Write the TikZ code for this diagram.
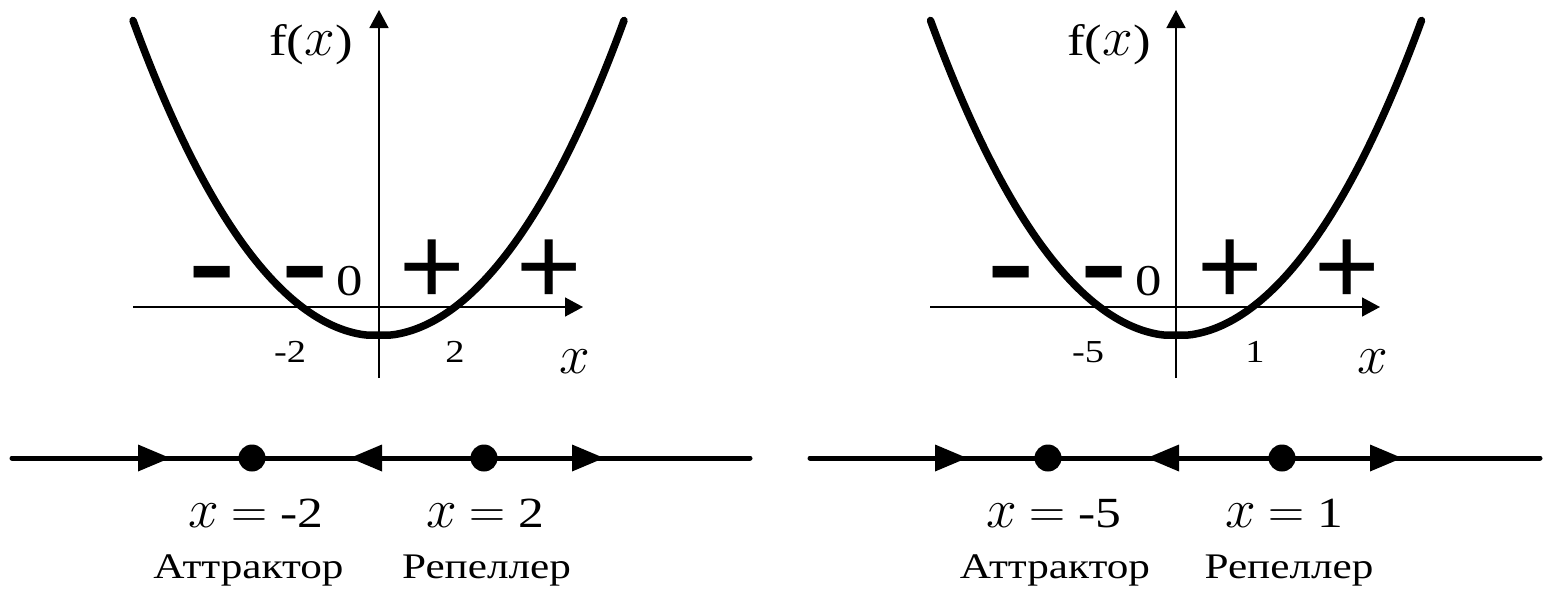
\RequirePackage{fix-cm}
\documentclass[tikz,border=0pt]{standalone}
\usepackage{fontspec}
\setmainfont[FakeStretch=1.2]{Liberation Serif}
\newfontfamily\signfont{Liberation Sans}
\usetikzlibrary{arrows.meta}
\tikzset{
  axisline/.style={line width=1.6pt, -{Triangle[length=18pt,width=19pt]}},
  curveline/.style={line width=7.5pt, line cap=round, line join=round},
  flowline/.style={line width=5pt, line cap=round},
  fixdot/.style={circle, fill=black, inner sep=0pt, minimum size=27pt},
  plussign/.style={inner sep=0pt, font=\signfont\fontsize{112}{112}\selectfont},
  minussign/.style={inner sep=0pt, anchor=base, font=\signfont\fontsize{148}{148}\selectfont},
  ticklbl/.style={inner sep=0pt, anchor=base, font=\fontsize{32}{32}\selectfont},
  biglbl/.style={inner sep=0pt, anchor=base, font=\fontsize{44}{44}\selectfont},
  eqlbl/.style={inner sep=0pt, anchor=base, font=\fontsize{43}{43}\selectfont},
  typelbl/.style={inner sep=0pt, anchor=base, font=\fontsize{36}{36}\selectfont},
}
\newcommand\bigx{{\fontsize{55}{55}\selectfont\(x\)}}
\newcommand\bigeq{{\fontsize{50}{50}\selectfont\(=\)}}
\begin{document}
\begin{tikzpicture}[x=1pt,y=-1pt]
\useasboundingbox (0,0) rectangle (1547,589);
% ---------- left panel ----------
\coordinate (yb1) at (379,378); \coordinate (yt1) at (379,10);
\coordinate (xl1) at (133,307); \coordinate (xr1) at (583,307);
\draw[axisline] (yb1) -- (yt1);
\draw[axisline] (xl1) -- (xr1);
\draw[curveline] plot[domain=-245.5:245.5, samples=121] ({378.5+\x},{335-max(0,0.07*\x*0.07*\x-0.828)-0.55*(\x/100)^4});
\node[biglbl] (f1) at (311,55) {f(\bigx)};
\node[biglbl] (z1) at (350,295) {0};
\node[ticklbl] (ra1) at (290,362) {-2};
\node[ticklbl] (rb1) at (455,362) {2};
\node[biglbl] (xa1) at (575,373) {\bigx};
\node[minussign] (ma1) at (212.5,311.5) {-};
\node[minussign] (mb1) at (305.5,311.5) {-};
\node[plussign] (pa1) at (432,272) {+};
\node[plussign] (pb1) at (549,272) {+};
\coordinate (s1) at (12,458); \coordinate (e1) at (750,458);
\draw[flowline] (s1) -- (e1);
\node[fixdot] (att1) at (252,458) {};
\node[fixdot] (rep1) at (484,458) {};
\fill (170,458) -- (138,444.5) -- (138,471.5) -- cycle;
\fill (350,458) -- (382,444.5) -- (382,471.5) -- cycle;
\fill (604,458) -- (572,444.5) -- (572,471.5) -- cycle;
\node[eqlbl] (ea1) at (256,527) {\bigx\ \bigeq\ -2};
\node[eqlbl] (er1) at (485.5,527) {\bigx\ \bigeq\ 2};
\node[typelbl] (na1) at (248.5,578) {Аттрактор};
\node[typelbl] (nr1) at (486.5,578) {Репеллер};
% ---------- right panel ----------
\begin{scope}[xshift=797pt]
\coordinate (yb2) at (379,378); \coordinate (yt2) at (379,10);
\coordinate (xl2) at (133,307); \coordinate (xr2) at (583,307);
\draw[axisline] (yb2) -- (yt2);
\draw[axisline] (xl2) -- (xr2);
\draw[curveline] plot[domain=-245.5:245.5, samples=121] ({379+\x},{335-max(0,0.07*\x*0.07*\x-0.828)-0.55*(\x/100)^4});
\node[biglbl] (f2) at (312,55) {f(\bigx)};
\node[biglbl] (z2) at (352,295) {0};
\node[ticklbl] (ra2) at (291,362) {-5};
\node[ticklbl] (rb2) at (458,362) {1};
\node[biglbl] (xa2) at (576,373) {\bigx};
\node[minussign] (ma2) at (214,311.5) {-};
\node[minussign] (mb2) at (307,311.5) {-};
\node[plussign] (pa2) at (433.5,272) {+};
\node[plussign] (pb2) at (550.5,272) {+};
\coordinate (s2) at (13,458); \coordinate (e2) at (743,458);
\draw[flowline] (s2) -- (e2);
\node[fixdot] (att2) at (251,458) {};
\node[fixdot] (rep2) at (485,458) {};
\fill (170,458) -- (138,444.5) -- (138,471.5) -- cycle;
\fill (350,458) -- (382,444.5) -- (382,471.5) -- cycle;
\fill (605,458) -- (573,444.5) -- (573,471.5) -- cycle;
\node[eqlbl] (ea2) at (257,527) {\bigx\ \bigeq\ -5};
\node[eqlbl] (er2) at (487.5,527) {\bigx\ \bigeq\ 1};
\node[typelbl] (na2) at (258,578) {Аттрактор};
\node[typelbl] (nr2) at (492,578) {Репеллер};
\end{scope}
\end{tikzpicture}
\end{document}
